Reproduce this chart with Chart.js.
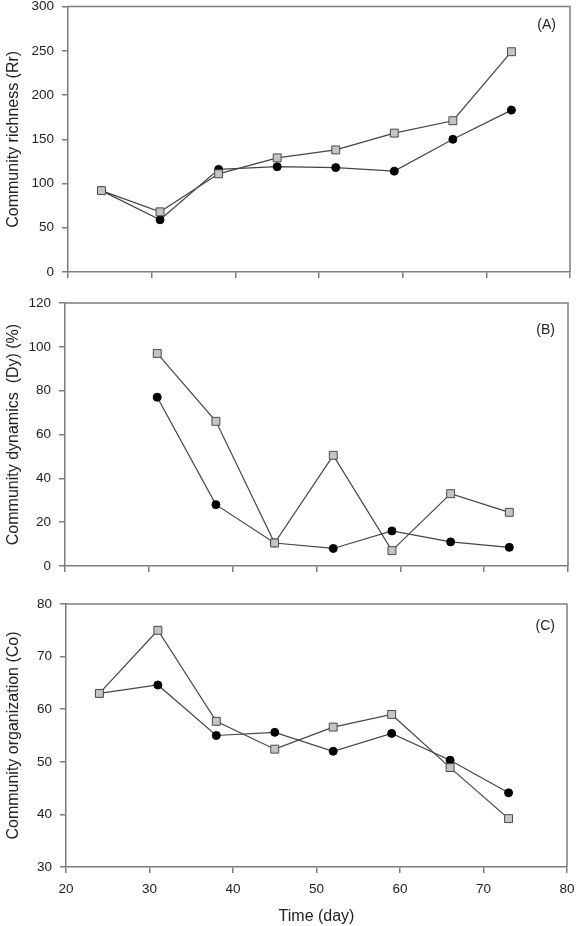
<!DOCTYPE html>
<html>
<head>
<meta charset="utf-8">
<script src="https://cdn.jsdelivr.net/npm/chart.js@4.4.1/dist/chart.umd.min.js"></script>
<style>
html, body { margin:0; padding:0; background:#fff; }
#wrap { position:relative; width:577px; height:926px; overflow:hidden; background:#fff; }
.panel { position:absolute; left:0; width:577px; }
</style>
</head>
<body>
<div id="wrap">
  <div class="panel" style="top:0;height:290px"><canvas id="chartA"></canvas></div>
  <div class="panel" style="top:290px;height:290px"><canvas id="chartB"></canvas></div>
  <div class="panel" style="top:580px;height:346px"><canvas id="chartC"></canvas></div>
</div>
<script>
// sampling days (x)
const DAYS = [24, 31, 38, 45, 52, 59, 66, 73];
const X_TICKS = [20, 30, 40, 50, 60, 70, 80];

// (A) community richness
const RICH_SQUARE = [92, 68, 111, 129, 138, 157, 171, 249];
const RICH_CIRCLE = [92, 59, 116, 119, 118, 114, 150, 183];
const RICH_TICKS = [0, 50, 100, 150, 200, 250, 300];

// (B) community dynamics, no value on the first day
const DYN_SQUARE = [null, 97, 66, 10.5, 50.5, 7, 33, 24.5];
const DYN_CIRCLE = [null, 77, 28, 10.5, 8, 16, 11, 8.5];
const DYN_TICKS = [0, 20, 40, 60, 80, 100, 120];

// (C) community organization
const ORG_SQUARE = [63, 75, 57.7, 52.4, 56.6, 59, 48.9, 39.2];
const ORG_CIRCLE = [63, 64.6, 55, 55.6, 52, 55.4, 50.3, 44.1];
const ORG_TICKS = [30, 40, 50, 60, 70, 80];

const AXIS_COLOR = '#7d7d7d';
const LINE_COLOR = '#454545';
const TEXT_COLOR = '#222';
const FONT = '"Liberation Sans", Arial, sans-serif';

Chart.defaults.font.family = FONT;
Chart.defaults.color = TEXT_COLOR;

// top + right frame lines and the (A)/(B)/(C) tag
const framePlugin = {
  id: 'frame',
  afterDraw(chart, args, opts) {
    const { ctx, chartArea: a } = chart;
    ctx.save();
    ctx.strokeStyle = AXIS_COLOR; ctx.lineWidth = 1.5;
    ctx.beginPath();
    ctx.moveTo(a.left, a.top); ctx.lineTo(a.right, a.top); ctx.lineTo(a.right, a.bottom);
    ctx.stroke();
    ctx.font = '14px ' + FONT; ctx.fillStyle = TEXT_COLOR;
    ctx.textAlign = 'right'; ctx.textBaseline = 'middle';
    ctx.fillText(opts.text, a.right - opts.dx, a.top + opts.dy);
    ctx.restore();
  }
};

function pts(vals) {
  return DAYS.map((d, i) => ({ x: d, y: vals[i] }));
}

function makePanel(id, cfg) {
  const fixTicks = list => s => { s.ticks = list.map(v => ({ value: v })); };
  return new Chart(document.getElementById(id), {
    type: 'line',
    data: {
      datasets: [
        { data: pts(cfg.square), pointStyle: 'rect', pointRadius: 5.6, pointBackgroundColor: '#c4c4c4',
          pointBorderColor: '#4a4a4a', pointBorderWidth: 1, borderColor: LINE_COLOR, borderWidth: 1.2, tension: 0 },
        { data: pts(cfg.circle), pointStyle: 'circle', pointRadius: 4, pointBackgroundColor: '#000',
          pointBorderColor: '#000', pointBorderWidth: 1, borderColor: LINE_COLOR, borderWidth: 1.2, tension: 0 }
      ]
    },
    plugins: [framePlugin],
    options: {
      responsive: true, maintainAspectRatio: false, animation: false,
      layout: { padding: cfg.pad },
      plugins: { legend: { display: false }, tooltip: { enabled: false }, frame: cfg.tag },
      scales: {
        x: {
          type: 'linear', min: 20, max: 80,
          afterBuildTicks: fixTicks(X_TICKS),
          afterFit: s => { s.height = cfg.xh; s.paddingLeft = 0; s.paddingRight = 0; },
          border: { color: AXIS_COLOR, width: 1.5 },
          grid: { drawOnChartArea: false, drawTicks: true, tickLength: 6, color: AXIS_COLOR, lineWidth: 1.5 },
          ticks: { display: cfg.xLabels, padding: 8, font: { size: 13.5 }, color: TEXT_COLOR },
          title: { display: cfg.xLabels, text: 'Time (day)', font: { size: 16 }, color: TEXT_COLOR, padding: { top: 0, bottom: 0 } }
        },
        y: {
          type: 'linear', min: cfg.yTicks[0], max: cfg.yTicks[cfg.yTicks.length - 1],
          afterBuildTicks: fixTicks(cfg.yTicks),
          afterFit: s => { s.width = cfg.yw; s.paddingTop = 0; s.paddingBottom = 0; },
          border: { color: AXIS_COLOR, width: 1.5 },
          grid: { drawOnChartArea: false, drawTicks: true, tickLength: 6, color: AXIS_COLOR, lineWidth: 1.5 },
          ticks: { padding: 8, font: { size: 13.5 }, color: TEXT_COLOR },
          title: { display: true, text: cfg.yTitle, font: { size: 16 }, color: TEXT_COLOR, padding: { top: 4, bottom: 4 } }
        }
      }
    }
  });
}

makePanel('chartA', {
  square: RICH_SQUARE, circle: RICH_CIRCLE, yTicks: RICH_TICKS,
  yTitle: 'Community richness (Rr)', xLabels: false,
  pad: { left: 0, right: 7, top: 6, bottom: 10 }, yw: 68, xh: 8,
  tag: { text: '(A)', dx: 14, dy: 19 }
});
makePanel('chartB', {
  square: DYN_SQUARE, circle: DYN_CIRCLE, yTicks: DYN_TICKS,
  yTitle: 'Community dynamics  (Dy) (%)', xLabels: false,
  pad: { left: 0, right: 9, top: 13, bottom: 6 }, yw: 65, xh: 8,
  tag: { text: '(B)', dx: 13, dy: 27 }
});
makePanel('chartC', {
  square: ORG_SQUARE, circle: ORG_CIRCLE, yTicks: ORG_TICKS,
  yTitle: 'Community organization (Co)', xLabels: true,
  pad: { left: 0, right: 10, top: 24, bottom: 0 }, yw: 66, xh: 59,
  tag: { text: '(C)', dx: 12, dy: 22 }
});
</script>
</body>
</html>
